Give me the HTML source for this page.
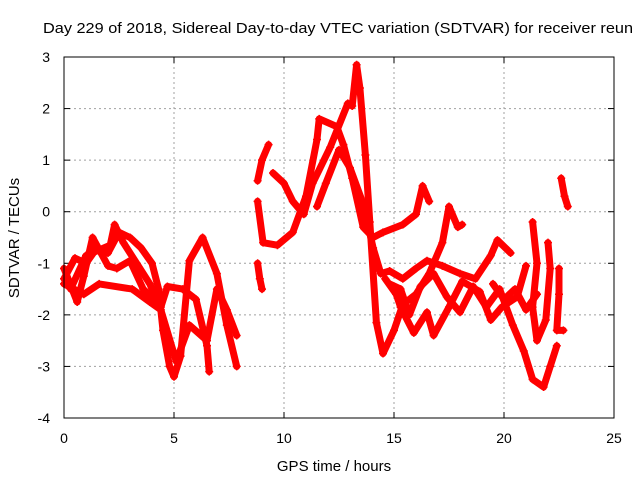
<!DOCTYPE html>
<html><head><meta charset="utf-8"><style>
body{margin:0;background:#fff}
svg text{font-family:"Liberation Sans",sans-serif;font-size:14px;fill:#000}
</style></head><body>
<svg id="chart" width="640" height="480">
<rect width="640" height="480" fill="#fff"/>
<text x="43" y="33" style="font-size:15px" textLength="590" lengthAdjust="spacingAndGlyphs">Day 229 of 2018, Sidereal Day-to-day VTEC variation (SDTVAR) for receiver reun</text>
<g id="grid"></g><g id="ticks"></g><g id="series"></g>
<rect x="64" y="57" width="550" height="361" fill="none" stroke="#000" stroke-width="1"/>
<text x="334" y="471" text-anchor="middle" style="font-size:15px">GPS time / hours</text>
<text transform="translate(19,238) rotate(-90)" text-anchor="middle" style="font-size:15px">SDTVAR / TECUs</text>
</svg>
<script>
const xTicks=[0,5,10,15,20,25];
const yTicks=[-4,-3,-2,-1,0,1,2,3];
const tr1H=[0,0.5,1,1.5,2,2.5,3,3.5,4,4.3,4.5,4.8,5,5.3,5.7,6.3,6.95,7.4,7.85];
const tr1V=[-1.3,-0.9,-1.0,-0.7,-0.8,-0.4,-0.5,-0.7,-1.0,-1.5,-2.3,-3.0,-3.2,-2.8,-0.95,-0.5,-1.2,-2.2,-3.0];
const tr2H=[0,0.9,1.6,3.1,3.9,4.4,5.1,5.7,6.5,6.95,7.4,7.85];
const tr2V=[-1.4,-1.6,-1.4,-1.5,-1.75,-1.9,-2.9,-2.2,-2.5,-1.5,-1.9,-2.4];
const tr3H=[0,0.6,0.9,1.3,2,2.4,3,3.6,4.4,4.7,5.4,6,6.5,6.6];
const tr3V=[-1.1,-1.75,-1.25,-0.5,-1.05,-1.1,-0.95,-1.5,-1.85,-1.45,-1.5,-1.7,-2.6,-3.1];
const tr4H=[0.3,1.0,2.1,2.3,2.7,3.3,3.9,4.3];
const tr4V=[-1.5,-0.85,-0.65,-0.25,-0.6,-1.0,-1.4,-1.8];
const tr5H=[8.8,9.0,9.3];
const tr5V=[0.6,1.0,1.3];
const tr6H=[8.8,9.05,9.7,10.4,11,11.5,11.6,12.4,12.7,13.1,13.6,14.05,14.5,15.4,16,16.3,16.6];
const tr6V=[0.2,-0.6,-0.65,-0.4,0.3,1.4,1.8,1.65,1.3,0.65,-0.3,-0.5,-0.4,-0.25,-0.05,0.5,0.2];
const tr7H=[9.5,10,10.4,10.9,11.3,12.1,12.9,13.1,13.3,13.45,13.7,13.9,14.2,14.5,15,15.4,16,16.6,17.2,17.5,17.9,18.1];
const tr7V=[0.75,0.55,0.2,-0.05,0.55,1.25,2.1,2.05,2.85,2.4,1.1,-0.2,-2.15,-2.75,-2.3,-1.8,-1.6,-1.2,-0.6,0.1,-0.3,-0.25];
const tr8H=[11.5,11.9,12.5,13,13.6,14.05,14.4,14.8,15.4,16,16.5,17.2,18,18.7,19.4,19.7,20.3];
const tr8V=[0.1,0.55,1.2,0.85,0.15,-0.7,-1.2,-1.15,-1.3,-1.1,-0.95,-1.05,-1.2,-1.3,-0.85,-0.55,-0.8];
const tr9H=[14.6,15.1,15.3,15.9,16.5,16.8,17.5,18.1,18.9,19.4,19.9,20.6,21];
const tr9V=[-1.3,-1.6,-1.85,-2.35,-1.95,-2.4,-1.85,-1.35,-1.55,-2.1,-1.85,-1.65,-1.05];
const tr10H=[14.8,15.3,15.7,16.2,16.8,17.4,18,18.6,19.2,19.8,20.4,20.9,21.3,21.8,22.1,22.4];
const tr10V=[-1.4,-1.5,-2.0,-1.45,-1.2,-1.65,-1.95,-1.45,-1.85,-1.5,-2.2,-2.7,-3.25,-3.4,-3.0,-2.6];
const tr11H=[21.3,21.5,21.3,21.5,21.9,22.1,22.0];
const tr11V=[-0.2,-1.0,-1.85,-2.5,-2.1,-1.1,-0.6];
const tr12H=[22.5,22.5,22.4,22.7];
const tr12V=[-1.1,-1.6,-2.3,-2.3];
const tr13H=[22.6,22.75,22.9];
const tr13V=[0.65,0.3,0.1];
const tr14H=[8.8,8.9,9.0];
const tr14V=[-1.0,-1.3,-1.5];
const tr15H=[19.5,20,20.5,21,21.5];
const tr15V=[-1.4,-1.7,-1.5,-1.9,-1.6];
const trH=[tr1H,tr2H,tr3H,tr4H,tr5H,tr6H,tr7H,tr8H,tr9H,tr10H,tr11H,tr12H,tr13H,tr14H,tr15H];
const trV=[tr1V,tr2V,tr3V,tr4V,tr5V,tr6V,tr7V,tr8V,tr9V,tr10V,tr11V,tr12V,tr13V,tr14V,tr15V];

const NS='http://www.w3.org/2000/svg';
const X=h=>64+h*22;
const Y=v=>57+(3-v)*(361/7);
function mk(tag,attrs,parent){const e=document.createElementNS(NS,tag);for(const k in attrs)e.setAttribute(k,attrs[k]);parent.appendChild(e);return e;}
const grid=document.getElementById('grid'),ticks=document.getElementById('ticks'),ser=document.getElementById('series');
xTicks.forEach(t=>{
  if(t>0&&t<25){const g=mk('line',{x1:X(t),x2:X(t),y1:57,y2:418,stroke:'#a0a0a0','stroke-dasharray':'2,3'},grid);
  
  }
  mk('line',{x1:X(t),x2:X(t),y1:418,y2:412,stroke:'#000'},ticks);
  mk('line',{x1:X(t),x2:X(t),y1:57,y2:63,stroke:'#000'},ticks);
  const l=mk('text',{x:X(t),y:443,'text-anchor':'middle'},ticks);l.textContent=t;
  
  
});
yTicks.forEach(t=>{
  if(t>-4&&t<3){const g=mk('line',{x1:64,x2:614,y1:Y(t),y2:Y(t),stroke:'#a0a0a0','stroke-dasharray':'2,3'},grid);
  
  }
  mk('line',{x1:64,x2:70,y1:Y(t),y2:Y(t),stroke:'#000'},ticks);
  mk('line',{x1:614,x2:608,y1:Y(t),y2:Y(t),stroke:'#000'},ticks);
  const l=mk('text',{x:50,y:Y(t)+5,'text-anchor':'end'},ticks);l.textContent=t;
  
  
});
trH.forEach((hs,i)=>{
  const vs=trV[i];
  const pts=hs.map((h,j)=>X(h)+','+Y(vs[j])).join(' ');
  const p=mk('polyline',{points:pts,fill:'none',stroke:'#ff0000','stroke-width':7,'stroke-linejoin':'round','stroke-linecap':'round'},ser);
  
  
  hs.forEach((h,j)=>{
    const x=X(h),y=Y(vs[j]);
    const m=mk('path',{d:`M${x-4},${y}H${x+4}M${x},${y-4}V${y+4}`,stroke:'#ff0000','stroke-width':1.5},ser);
    
    
  });
});
</script>
</body></html>
